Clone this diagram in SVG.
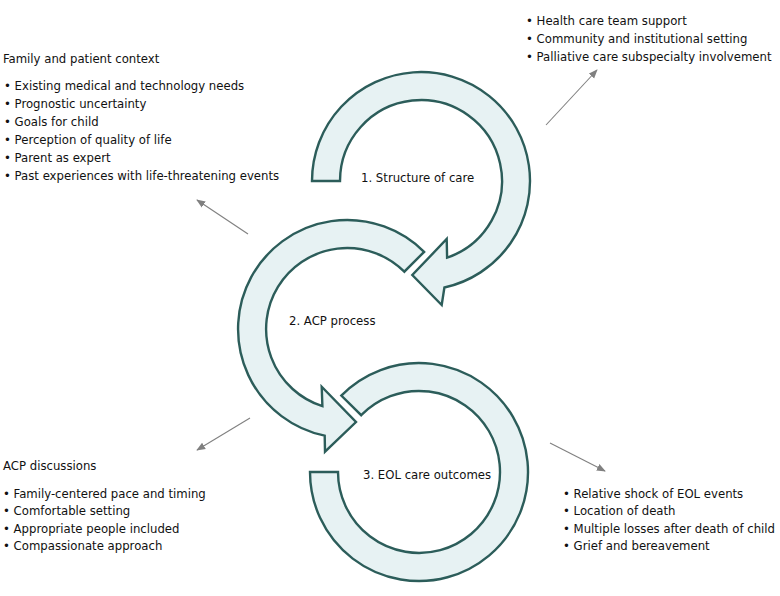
<svg xmlns="http://www.w3.org/2000/svg" width="780" height="596" viewBox="0 0 780 596">
<style>
.bg{fill:#ffffff}
.arr{fill:#e7f2f3;stroke:#2c5d5a;stroke-width:2.4;stroke-linejoin:miter}
.t{font-family:"DejaVu Sans Condensed","Liberation Sans",Arial,sans-serif;font-stretch:condensed;font-size:13px;fill:#111111}
.con{stroke:#808080;stroke-width:1.1;fill:none}
</style>
<defs>
<marker id="ah" viewBox="0 0 10 10" refX="9" refY="5" markerWidth="9" markerHeight="9" markerUnits="userSpaceOnUse" orient="auto">
<path d="M0,1 L10,5 L0,9 Z" fill="#808080"/>
</marker>
</defs>
<rect class="bg" x="0" y="0" width="780" height="596"/>

<g id="node-structure">
<path class="arr" d="M312,181 A109,109 0 1 1 444.4,287.5 L441.7,305 L412.3,275 L446.7,239 L447.1,257.7 A81,81 0 1 0 340,181 Z"/>
<text class="t" x="361" y="181.5">1. Structure of care</text>
</g>

<g id="node-acp">
<path class="arr" d="M424.1,251.9 A109,109 0 1 0 324.7,435.7 L325,451.7 L356,422 L321.7,386.7 L322.4,406.2 A81,81 0 1 1 404.3,271.7 Z"/>
<text class="t" x="289" y="325">2. ACP process</text>
</g>

<g id="node-eol">
<path class="arr" d="M341.3,395.6 A109,109 0 1 1 310,472 L338,472 A81,81 0 1 0 361.2,415.2 Z"/>
<text class="t" x="363" y="479">3. EOL care outcomes</text>
</g>

<g id="node-family">
<text class="t" x="3" y="62.5">Family and patient context</text>
<text class="t" x="4" y="89.5">• Existing medical and technology needs</text>
<text class="t" x="4" y="107.5">• Prognostic uncertainty</text>
<text class="t" x="4" y="125.5">• Goals for child</text>
<text class="t" x="4" y="143.5">• Perception of quality of life</text>
<text class="t" x="4" y="161.5">• Parent as expert</text>
<text class="t" x="4" y="179.5">• Past experiences with life-threatening events</text>
</g>

<g id="node-team">
<text class="t" x="526" y="24.5">• Health care team support</text>
<text class="t" x="526" y="42.5">• Community and institutional setting</text>
<text class="t" x="526" y="60.5">• Palliative care subspecialty involvement</text>
</g>

<g id="node-discussions">
<text class="t" x="3" y="469.5">ACP discussions</text>
<text class="t" x="3" y="497.8">• Family-centered pace and timing</text>
<text class="t" x="3" y="515.3">• Comfortable setting</text>
<text class="t" x="3" y="532.8">• Appropriate people included</text>
<text class="t" x="3" y="550.3">• Compassionate approach</text>
</g>

<g id="node-outcomes">
<text class="t" x="563" y="497.8">• Relative shock of EOL events</text>
<text class="t" x="563" y="515.3">• Location of death</text>
<text class="t" x="563" y="532.8">• Multiple losses after death of child</text>
<text class="t" x="563" y="550.3">• Grief and bereavement</text>
</g>

<g id="connectors">
<line class="con" x1="546" y1="125" x2="597" y2="70" marker-end="url(#ah)"/>
<line class="con" x1="248" y1="234" x2="197" y2="200" marker-end="url(#ah)"/>
<line class="con" x1="250" y1="418" x2="197" y2="450" marker-end="url(#ah)"/>
<line class="con" x1="550" y1="443" x2="605" y2="471" marker-end="url(#ah)"/>
</g>
</svg>
